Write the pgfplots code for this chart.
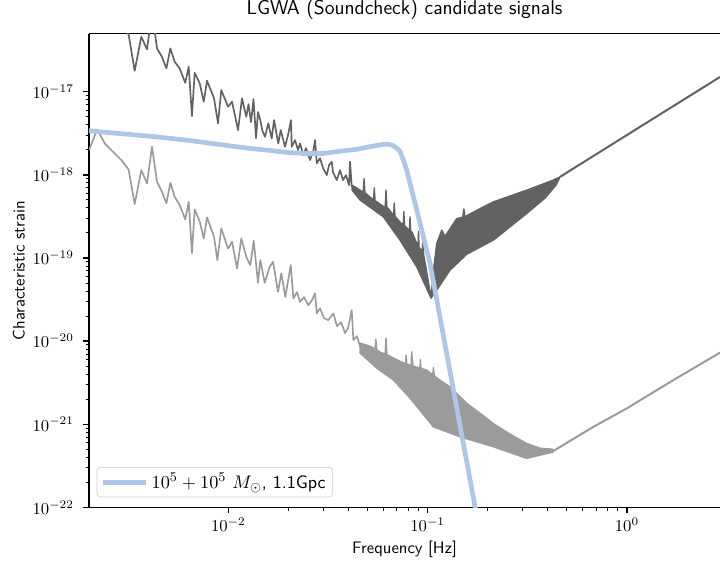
\documentclass[border=0pt]{standalone}
\usepackage{pgfplots}
\pgfplotsset{compat=1.18}
\definecolor{darkc}{RGB}{98,98,98}
\definecolor{lightc}{RGB}{155,155,155}
\definecolor{sigblue}{RGB}{174,199,232}
\begin{document}
\begin{tikzpicture}
\begin{axis}[
  name=ax,
  scale only axis,
  width=378.6pt, height=284.2pt,
  xmode=log, ymode=log,
  xmin=0.002, xmax=2.93, ymin=1e-22, ymax=5e-17,
  axis x line*=box, axis y line*=left,
  xtick pos=left, ytick pos=left,
  tick align=outside,
  major tick length=3.5pt, minor tick length=2pt,
  major tick style={black, line width=0.8pt},
  minor tick style={black, line width=0.6pt},
  axis line style={line width=0.8pt, black},
  xtick={0.01,0.1,1},
  ytick={1e-22,1e-21,1e-20,1e-19,1e-18,1e-17},
  tick label style={font=\fontsize{10}{12}\selectfont},
  yticklabel style={anchor=east, inner sep=0pt, xshift=-5.4pt},
  xticklabel style={anchor=north, inner sep=0pt, yshift=-2.4pt},
  title={LGWA (Soundcheck) candidate signals},
  title style={font=\sffamily\fontsize{12}{14}\selectfont, at={(axis description cs:0.5,1)}, anchor=base, yshift=5.8pt},
  xlabel={Frequency [Hz]},
  xlabel style={font=\sffamily\fontsize{10}{12}\selectfont, at={(axis description cs:0.5,0)}, anchor=base, yshift=-27.4pt},
  ylabel={Characteristic strain},
  ylabel style={font=\sffamily\fontsize{10}{12}\selectfont, at={(axis description cs:-0.1022,0.5)}, anchor=base},
  legend style={at={(axis description cs:0.0122,0.0211)}, anchor=south west, draw=black!20, rounded corners=2pt, fill=white, fill opacity=0.8, text opacity=1, font=\fontsize{10.8}{12}\selectfont, inner xsep=2pt, inner ysep=1.6pt},
  legend image code/.code={\draw[#1, line cap=butt] (0pt,0pt) -- (23pt,0pt); \path (23pt,0pt) -- (26pt,0pt);},
  legend cell align=left,
]
% light gray curve
\addplot[lightc, line width=1pt, line join=round, forget plot] coordinates {
(0.002,1.99e-18) (2.20e-3,3.53e-18) (2.40e-3,2.39e-18) (2.59e-3,1.99e-18) (2.905e-3,1.51e-18) (3.16e-3,1.16e-18) (3.39e-3,4.46e-19) (3.66e-3,1.14e-18) (3.91e-3,7.90e-19) (4.14e-3,2.18e-18) (4.39e-3,8.26e-19) (4.65e-3,6.26e-19) (4.89e-3,4.54e-19) (5.12e-3,8.03e-19) (5.38e-3,5.45e-19) (5.70e-3,4.34e-19) (6.08e-3,2.91e-19) (6.33e-3,4.74e-19) (6.57e-3,1.15e-19) (6.78e-3,3.85e-19) (7.19e-3,2.73e-19) (7.53e-3,1.72e-19) (7.82e-3,3.08e-19) (8.48e-3,1.80e-19) (8.81e-3,9.44e-20) (9.22e-3,2.27e-19) (9.97e-3,1.30e-19) (1.044e-2,1.57e-19) (1.106e-2,7.50e-20) (1.162e-2,1.72e-19) (1.231e-2,1.03e-19) (1.29e-2,8.21e-20) (1.341e-2,1.61e-19) (1.409e-2,5.03e-20) (1.447e-2,9.44e-20) (1.523e-2,5.03e-20) (1.613e-2,7.83e-20) (1.676e-2,9.00e-20) (1.776e-2,3.92e-20) (1.845e-2,6.53e-20) (1.932e-2,3.41e-20) (2.057e-2,8.21e-20) (2.12e-2,3.27e-20) (2.212e-2,3.89e-20) (2.29e-2,2.97e-20) (2.399e-2,3.38e-20) (2.52e-2,2.71e-20) (2.63e-2,3.11e-20) (2.724e-2,3.75e-20) (2.778e-2,2.15e-20) (2.885e-2,2.49e-20) (3.021e-2,1.89e-20) (3.175e-2,1.79e-20) (3.365e-2,2.15e-20) (3.512e-2,1.51e-20) (3.678e-2,1.69e-20) (3.852e-2,1.25e-20) (3.987e-2,1.43e-20) (4.161e-2,2.36e-20) (4.24e-2,1.03e-20) (4.424e-2,1.15e-20) (4.58e-2,8.53e-21)
};
\addplot[lightc, fill=lightc, line width=0.8pt, line join=round, forget plot] coordinates {
(4.58e-2,9.46e-21) (5.14e-2,8.71e-21) (5.45e-2,8.0e-21) (5.5e-2,1.05e-20) (5.56e-2,7.9e-21) (5.77e-2,7.38e-21) (6.12e-2,7.0e-21) (6.184e-2,1.09e-20) (6.25e-2,6.9e-21) (6.33e-2,6.78e-21) (7.27e-2,5.74e-21) (7.75e-2,5.35e-21) (7.8e-2,6.8e-21) (7.86e-2,5.3e-21) (8.26e-2,5.1e-21) (8.32e-2,7.43e-21) (8.45e-2,5.00e-21) (9.15e-2,4.75e-21) (9.2e-2,6.0e-21) (9.26e-2,4.7e-21) (9.90e-2,4.48e-21) (0.106,3.95e-21) (0.107,4.8e-21) (0.108,3.85e-21) (0.1154,3.40e-21) (0.1296,2.82e-21) (0.1572,1.78e-21) (0.1832,1.36e-21) (0.2137,1.02e-21) (0.2592,7.60e-22) (0.3145,5.87e-22) (0.3665,5.15e-22) (0.4259,5.01e-22)
(0.4259,4.61e-22) (0.3665,4.25e-22) (0.3145,3.88e-22) (0.2137,5.35e-22) (0.1454,7.05e-22) (0.1068,9.31e-22) (8.16e-2,2.06e-21) (6.73e-2,3.40e-21) (5.555e-2,4.73e-21) (4.58e-2,7.18e-21)
} -- cycle;
\addplot[lightc, line width=1.2pt, forget plot] coordinates {
(0.4259,4.74e-22) (0.6787,9.31e-22) (0.998,1.55e-21) (1.710,3.40e-21) (2.934,7.28e-21)
};
% dark gray curve
\addplot[darkc, line width=1pt, line join=round, forget plot] coordinates {
(0.002,8.38e-17) (2.20e-3,1.50e-16) (2.40e-3,1.02e-16) (2.59e-3,8.38e-17) (2.905e-3,6.35e-17) (3.16e-3,4.91e-17) (3.39e-3,1.79e-17) (3.66e-3,4.59e-17) (3.91e-3,3.24e-17) (4.14e-3,9.10e-17) (4.39e-3,3.33e-17) (4.65e-3,2.62e-17) (4.89e-3,1.91e-17) (5.12e-3,3.33e-17) (5.38e-3,2.30e-17) (5.70e-3,1.91e-17) (6.08e-3,1.28e-17) (6.33e-3,2.00e-17) (6.57e-3,5.10e-18) (6.78e-3,1.69e-17) (7.19e-3,1.26e-17) (7.53e-3,7.58e-18) (7.82e-3,1.36e-17) (8.48e-3,8.33e-18) (8.88e-3,4.17e-18) (9.22e-3,1.05e-17) (9.97e-3,6.60e-18) (1.044e-2,7.58e-18) (1.119e-2,3.46e-18) (1.171e-2,8.33e-18) (1.231e-2,5.00e-18) (1.263e-2,7.11e-18) (1.30e-2,4.32e-18) (1.338e-2,8.17e-18) (1.377e-2,2.77e-18) (1.409e-2,5.70e-18) (1.447e-2,4.56e-18) (1.485e-2,3.37e-18) (1.528e-2,2.87e-18) (1.587e-2,4.17e-18) (1.651e-2,2.75e-18) (1.696e-2,4.56e-18) (1.782e-2,2.39e-18) (1.832e-2,3.46e-18) (1.925e-2,2.18e-18) (1.993e-2,3.01e-18) (2.064e-2,4.56e-18) (2.080e-2,2.18e-18) (2.161e-2,2.62e-18) (2.238e-2,1.99e-18) (2.29e-2,2.39e-18) (2.379e-2,1.73e-18) (2.454e-2,2.10e-18) (2.57e-2,1.51e-18) (2.661e-2,1.88e-18) (2.724e-2,2.62e-18) (2.778e-2,1.38e-18) (2.885e-2,1.59e-18) (2.987e-2,1.21e-18) (3.118e-2,9.94e-19) (3.202e-2,1.31e-18) (3.303e-2,1.44e-18) (3.353e-2,1.08e-18) (3.499e-2,8.65e-19) (3.635e-2,1.14e-18) (3.763e-2,8.65e-19) (3.896e-2,9.94e-19) (4.034e-2,7.54e-19) (4.081e-2,1.44e-18) (4.161e-2,7.19e-19)
};
\addplot[darkc, fill=darkc, line width=0.8pt, line join=round, forget plot] coordinates {
(4.176e-2,7.54e-19) (4.58e-2,6.56e-19) (4.75e-2,6.2e-19) (4.8e-2,9.0e-19) (4.85e-2,6.1e-19) (5.14e-2,5.41e-19) (5.35e-2,5.0e-19) (5.4e-2,7.0e-19) (5.45e-2,4.9e-19) (5.974e-2,4.21e-19) (6.12e-2,4.1e-19) (6.184e-2,6.56e-19) (6.25e-2,4.0e-19) (6.33e-2,3.98e-19) (6.75e-2,3.25e-19) (6.8e-2,4.6e-19) (6.86e-2,3.2e-19) (7.27e-2,2.70e-19) (7.55e-2,2.5e-19) (7.6e-2,3.6e-19) (7.66e-2,2.45e-19) (8.1e-2,2.15e-19) (8.16e-2,3.13e-19) (8.22e-2,2.1e-19) (8.35e-2,2.05e-19) (8.82e-2,1.50e-19) (8.95e-2,1.4e-19) (9.0e-2,2.1e-19) (9.06e-2,1.35e-19) (9.4e-2,1.2e-19) (9.48e-2,1.73e-19) (9.55e-2,1.1e-19) (9.70e-2,8.93e-20) (0.1040,3.38e-20) (0.1077,8.21e-20) (0.1111,1.50e-19) (0.1177,2.17e-19) (0.1223,1.83e-19) (0.140,2.99e-19) (0.150,3.1e-19) (0.152,3.9e-19) (0.154,3.15e-19) (0.1904,4.13e-19) (0.2137,4.74e-19) (0.3145,6.56e-19) (0.4259,8.65e-19) (0.4618,9.48e-19)
(0.4409,7.54e-19) (0.3883,5.26e-19) (0.3145,3.44e-19) (0.2137,1.64e-19) (0.1572,1.11e-19) (0.1296,7.15e-20) (0.1111,4.11e-20) (0.1040,3.29e-20) (8.82e-2,7.83e-20) (7.27e-2,1.64e-19) (5.995e-2,3.13e-19) (4.58e-2,4.98e-19) (4.176e-2,6.56e-19)
} -- cycle;
\addplot[darkc, line width=1.2pt, forget plot] coordinates {
(0.4618,9.48e-19) (1.164,3.79e-18) (2.934,1.51e-17)
};
% signal
\addplot[sigblue, line width=2.8pt, line join=round] coordinates {
(0.002,3.40e-18) (2.86e-3,3.14e-18) (4.37e-3,2.87e-18) (6.42e-3,2.59e-18) (9.44e-3,2.29e-18) (1.285e-2,2.08e-18) (1.682e-2,1.95e-18) (2.04e-2,1.85e-18) (2.474e-2,1.81e-18) (2.997e-2,1.81e-18) (3.635e-2,1.93e-18) (4.41e-2,2.03e-18) (5.14e-2,2.19e-18) (5.995e-2,2.33e-18) (6.33e-2,2.34e-18) (6.63e-2,2.29e-18) (6.94e-2,2.13e-18) (7.27e-2,1.93e-18) (7.55e-2,1.51e-18) (7.86e-2,1.14e-18) (8.16e-2,7.90e-19) (8.82e-2,3.77e-19) (9.52e-2,1.80e-19) (0.1028,8.61e-20) (0.1730,1.01e-22) (0.1832,4.89e-23)
};
\addlegendentry{$10^5+10^5\ M_{\odot}$\textsf{, 1.1Gpc}}
\end{axis}
\pgfresetboundingbox
\path[use as bounding box] ([xshift=-53.4pt,yshift=-32.2pt]ax.south west) rectangle ([yshift=20.2pt]ax.north east);
\end{tikzpicture}
\end{document}
